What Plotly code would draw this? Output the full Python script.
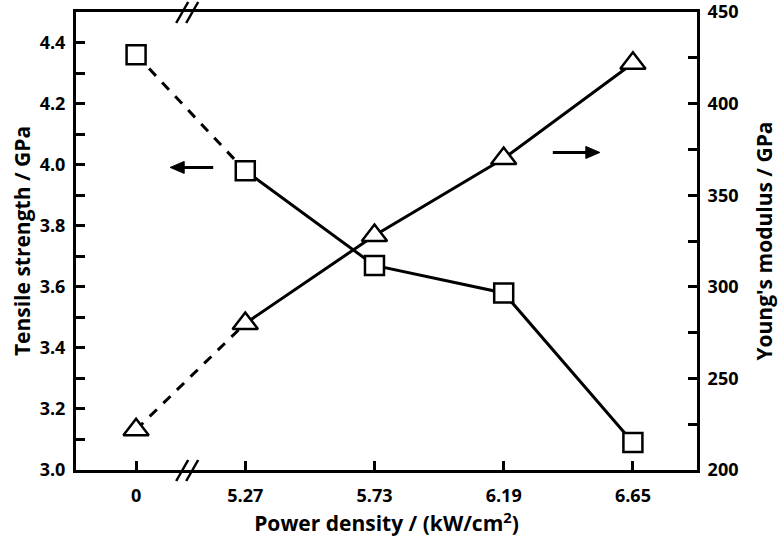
import plotly.graph_objects as go

power_labels = ["0", "5.27", "5.73", "6.19", "6.65"]
tensile = [4.36, 3.98, 3.67, 3.58, 3.09]
youngs = [222, 280, 328, 370, 422]
left_ticks = [3.0, 3.2, 3.4, 3.6, 3.8, 4.0, 4.2, 4.4]
right_ticks = [200, 250, 300, 350, 400, 450]

# category positions on a broken axis (0 is placed before the break)
xpos = [0.155, 1, 2, 3, 4]

FONT = "Open Sans"
fig = go.Figure()

def add_series(vals, yaxis):
    # dashed segment across the break
    fig.add_trace(go.Scatter(x=xpos[:2], y=vals[:2], yaxis=yaxis, mode="lines",
                             line=dict(color="black", width=3, dash="10px,9px"),
                             showlegend=False, hoverinfo="skip"))
    fig.add_trace(go.Scatter(x=xpos[1:], y=vals[1:], yaxis=yaxis, mode="lines",
                             line=dict(color="black", width=3),
                             showlegend=False, hoverinfo="skip"))

def add_markers(vals, yaxis, symbol, size):
    fig.add_trace(go.Scatter(x=xpos, y=vals, yaxis=yaxis, mode="markers",
                             marker=dict(symbol=symbol, size=size, color="white",
                                         line=dict(color="black", width=2.5)),
                             showlegend=False))

add_series(tensile, "y")
add_series(youngs, "y2")
add_markers(tensile, "y", "square", 19)
add_markers(youngs, "y2", "triangle-up", 22)

tickfont = dict(family=FONT, size=18, color="black", weight=700)
titlefont = dict(family=FONT, size=21, color="black", weight=700)

fig.update_layout(
    width=783, height=544,
    margin=dict(l=76, r=86, t=12, b=74, autoexpand=False),
    plot_bgcolor="white", paper_bgcolor="white",
    xaxis=dict(range=[-0.31, 4.496], tickvals=xpos, ticktext=power_labels,
               ticks="inside", ticklen=9, tickwidth=2.5, tickcolor="black",
               showline=True, linewidth=3, linecolor="black", mirror=True,
               showgrid=False, zeroline=False, tickfont=tickfont,
               ticklabelstandoff=7, automargin=False,
               title=dict(text="Power density / (kW/cm<sup>2</sup>)", font=titlefont, standoff=5)),
    yaxis=dict(range=[3.0, 4.5], tickvals=left_ticks, tickformat=".1f",
               ticks="inside", ticklen=9, tickwidth=2.5, tickcolor="black",
               minor=dict(ticks="inside", dtick=0.1, ticklen=9, tickwidth=2.5, tickcolor="black"),
               showline=True, linewidth=3, linecolor="black",
               showgrid=False, zeroline=False, tickfont=tickfont,
               ticklabelstandoff=4, automargin=False, ticklabeloverflow="allow",
               title=dict(text="Tensile strength / GPa", font=titlefont, standoff=4)),
    yaxis2=dict(range=[200, 450], tickvals=right_ticks, overlaying="y", side="right",
                ticks="inside", ticklen=9, tickwidth=2.5, tickcolor="black",
                minor=dict(ticks="inside", dtick=25, ticklen=9, tickwidth=2.5, tickcolor="black"),
                showline=True, linewidth=3, linecolor="black",
                showgrid=False, zeroline=False, tickfont=tickfont,
                ticklabelstandoff=4, automargin=False, ticklabeloverflow="allow",
                title=dict(text="Young's modulus / GPa", font=titlefont, standoff=20)),
)

# axis break marks on bottom and top
for yanchor in (0, 1):
    for dx in (0, 10):
        fig.add_shape(type="line", xref="x", yref="paper",
                      xsizemode="pixel", ysizemode="pixel",
                      xanchor=0.535, yanchor=yanchor,
                      x0=-9 + dx, x1=3 + dx, y0=-11, y1=10,
                      line=dict(color="black", width=2.5))

# direction arrows (shaft + filled head)
def arrow(x_tail, x_head, y, direction):
    fig.add_shape(type="line", xref="x", yref="y", x0=x_tail,
                  x1=x_head - direction * 0.08, y0=y, y1=y,
                  line=dict(color="black", width=3))
    d = direction
    fig.add_shape(type="path", xref="x", yref="y",
                  xsizemode="pixel", ysizemode="pixel", xanchor=x_head, yanchor=y,
                  path=f"M 0 0 L {-14*d} 6 L {-14*d} -6 Z",
                  fillcolor="black", line=dict(color="black", width=1))

arrow(0.752, 0.419, 3.991, -1)
arrow(3.38, 3.744, 4.04, 1)

fig.write_html("out.html", config={"displayModeBar": False},
               post_script="document.body.style.margin='0';")
